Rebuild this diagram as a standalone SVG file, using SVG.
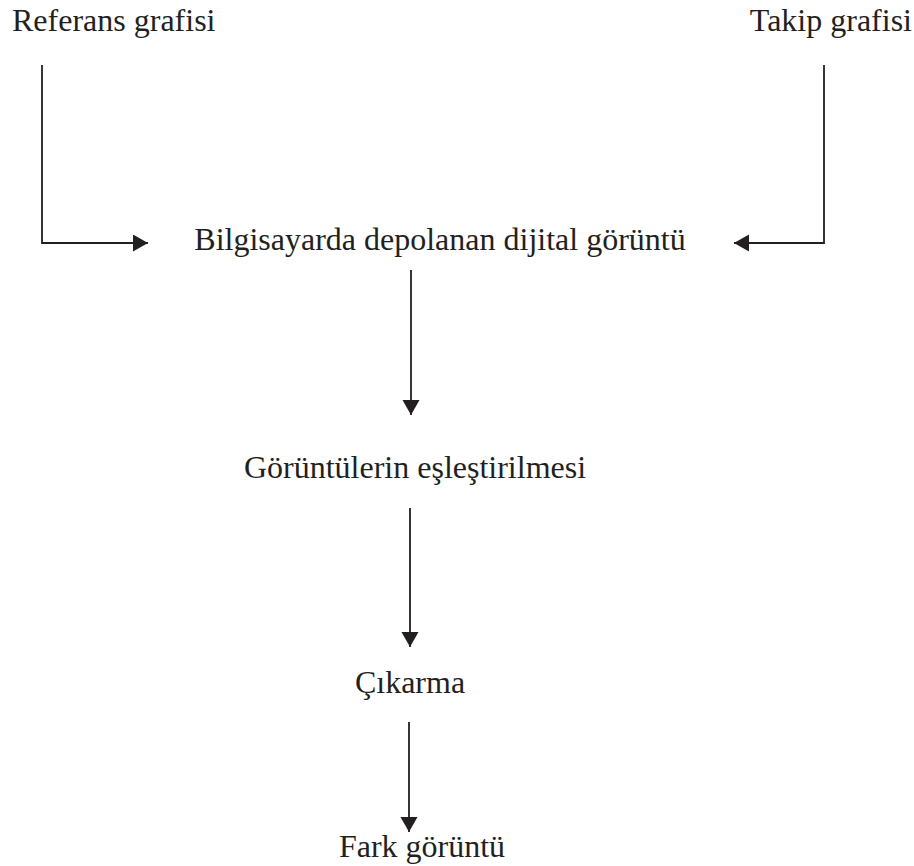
<svg xmlns="http://www.w3.org/2000/svg" width="914" height="866" viewBox="0 0 914 866">
<style>
text{font-family:"Liberation Serif","Times New Roman",serif;font-size:32px;fill:#231f20}
.c{fill:none;stroke:#231f20;stroke-width:1.8}
</style>
<defs>
<marker id="ah" markerUnits="userSpaceOnUse" markerWidth="16" markerHeight="18" refX="15" refY="8.5" orient="auto">
<path d="M0,0 L15,8.5 L0,17 Z" fill="#231f20"/>
</marker>
</defs>
<rect width="914" height="866" fill="#fff"/>
<g id="n-referans"><text x="12" y="31">Referans grafisi</text></g>
<g id="n-takip"><text x="912" y="31" text-anchor="end">Takip grafisi</text></g>
<g id="n-bilgisayar"><text x="440" y="250" text-anchor="middle">Bilgisayarda depolanan dijital görüntü</text></g>
<g id="n-eslestirme"><text x="415" y="478" text-anchor="middle">Görüntülerin eşleştirilmesi</text></g>
<g id="n-cikarma"><text x="410" y="693" text-anchor="middle">Çıkarma</text></g>
<g id="n-fark"><text x="422" y="857" text-anchor="middle">Fark görüntü</text></g>
<g id="connectors">
<path class="c" d="M42,65 V243 H148" marker-end="url(#ah)"/>
<path class="c" d="M824,65 V243 H734" marker-end="url(#ah)"/>
<path class="c" d="M411,270 V415" marker-end="url(#ah)"/>
<path class="c" d="M410,508 V647" marker-end="url(#ah)"/>
<path class="c" d="M409,722 V832" marker-end="url(#ah)"/>
</g>
</svg>
